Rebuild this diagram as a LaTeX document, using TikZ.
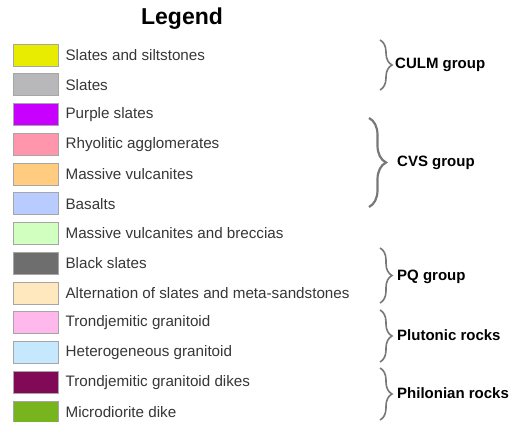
\documentclass[tikz,border=0pt]{standalone}
\usepackage{fontspec}
\setmainfont{Liberation Sans}
\usetikzlibrary{
    positioning,
    calc,
    decorations.pathreplacing
}
\definecolor{siltyellow}{RGB}{232,236,0}
\definecolor{slategray}{RGB}{184,184,186}
\definecolor{purpleslate}{RGB}{200,0,255}
\definecolor{rhyolite}{RGB}{255,150,172}
\definecolor{massvulc}{RGB}{255,204,128}
\definecolor{basalt}{RGB}{184,204,255}
\definecolor{breccia}{RGB}{208,255,192}
\definecolor{blackslate}{RGB}{110,110,110}
\definecolor{alternation}{RGB}{255,232,190}
\definecolor{trondj}{RGB}{255,184,235}
\definecolor{hetero}{RGB}{198,232,255}
\definecolor{dikeplum}{RGB}{128,10,85}
\definecolor{microdio}{RGB}{120,180,30}
\definecolor{textgray}{RGB}{55,55,55}
\definecolor{bracegray}{RGB}{120,120,120}
\tikzset{
    % Swatches
    swatch/.style={
        rectangle,
        draw=black!35,
        line width=0.8pt,
        minimum width=45pt,
        minimum height=22pt,
        inner sep=0pt
    },
    % Labels
    itemlabel/.style={
        anchor=west,
        inner sep=0pt,
        text=textgray,
        font=\fontsize{15.2}{18}\selectfont
    },
    grouplabel/.style={
        anchor=west,
        inner sep=0pt,
        font=\fontsize{15}{18}\selectfont\bfseries
    },
    % Braces
    groupbrace/.style={
        decorate,
        decoration={brace, amplitude=12pt},
        draw=bracegray,
        line width=1.6pt
    },
    bigbrace/.style={
        decorate,
        decoration={brace, amplitude=17pt},
        draw=bracegray,
        line width=2.2pt
    }
}

\begin{document}
\begin{tikzpicture}[x=1pt, y=-1pt]

    % Frame
    \fill[white] (0,0) rectangle (516,422);
    \useasboundingbox (0,0) rectangle (516,422);

    % Title
    \node[font=\fontsize{23}{27}\selectfont\bfseries] (title) at (182,19) {Legend};

    % Swatches and labels
    \foreach \i/\col/\txt in {
        1/siltyellow/Slates and siltstones,
        2/slategray/Slates,
        3/purpleslate/Purple slates,
        4/rhyolite/Rhyolitic agglomerates,
        5/massvulc/Massive vulcanites,
        6/basalt/Basalts,
        7/breccia/Massive vulcanites and breccias,
        8/blackslate/Black slates,
        9/alternation/Alternation of slates and meta-sandstones,
        10/trondj/Trondjemitic granitoid,
        11/hetero/Heterogeneous granitoid,
        12/dikeplum/Trondjemitic granitoid dikes,
        13/microdio/Microdiorite dike} {
        \node[swatch, fill=\col] (sw\i) at (35.5,{55+(\i-1)*29.75}) {};
        \node[itemlabel, right=7pt of sw\i] (lbl\i) {\txt};
    }

    % CULM group
    \coordinate (culmtop) at (380,40);
    \coordinate (culmbot) at (380,90);
    \draw[groupbrace] (culmtop) -- (culmbot);
    \node[grouplabel] (culm) at (395,65) {CULM group};

    % CVS group
    \coordinate (cvstop) at (369,118);
    \coordinate (cvsbot) at (369,207);
    \draw[bigbrace] (cvstop) -- (cvsbot);
    \node[grouplabel] (cvs) at (397,163) {CVS group};

    % PQ group
    \coordinate (pqtop) at (380,248);
    \coordinate (pqbot) at (380,303);
    \draw[groupbrace] (pqtop) -- (pqbot);
    \node[grouplabel] (pq) at (397,277) {PQ group};

    % Plutonic rocks
    \coordinate (plutop) at (380,310);
    \coordinate (plubot) at (380,362);
    \draw[groupbrace] (plutop) -- (plubot);
    \node[grouplabel] (plu) at (397,335) {Plutonic rocks};

    % Philonian rocks
    \coordinate (philtop) at (380,368);
    \coordinate (philbot) at (380,420);
    \draw[groupbrace] (philtop) -- (philbot);
    \node[grouplabel] (phil) at (397,393) {Philonian rocks};

\end{tikzpicture}
\end{document}
